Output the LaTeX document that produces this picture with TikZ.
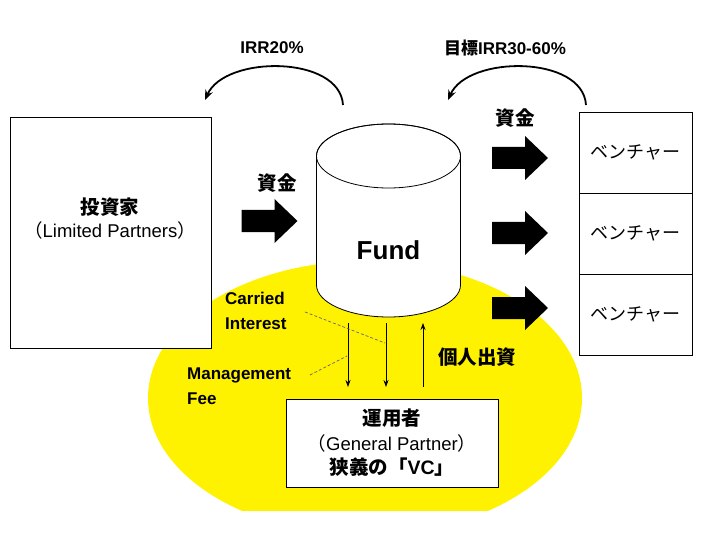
\documentclass[tikz,border=0pt]{standalone}
\usepackage{fontspec}
\setmainfont{Liberation Sans}
\newfontfamily\jp{Noto Sans CJK JP}
\usetikzlibrary{arrows.meta}
\begin{document}
\begin{tikzpicture}[x=1pt,y=-1pt,
  every node/.style={font=\fontsize{17}{24}\selectfont, inner sep=0pt},
  box/.style={draw, line width=0.8pt, fill=white},
  bl/.style={font=\bfseries\fontsize{17}{25}\selectfont, align=center},
  bj/.style={font=\jp\bfseries\fontsize{19.5}{25}\selectfont, align=center},
  rg/.style={font=\fontsize{18.5}{25}\selectfont, align=center},
  vj/.style={font=\jp\fontsize{18}{24}\selectfont},
  flow/.style={-{Stealth[length=7pt,width=5pt]}, line width=0.8pt},
  curve/.style={-{Stealth[length=10pt,width=8pt]}, line width=1.8pt},
  lead/.style={dash pattern=on 3pt off 2pt, line width=0.7pt, black!60},
  blk/.style={fill=black}]
\useasboundingbox (0,0) rectangle (720,540);
% yellow area
\begin{scope}
  \clip (0,0) rectangle (720,510);
  \fill[yellow] (365,398) ellipse [x radius=217, y radius=137];
\end{scope}
% investors
\node[box, minimum width=201pt, minimum height=231pt] (lp) at (110.5,233) {};
\node[bj] (lpname) at (110,207) {投資家};
\node[rg] (lpsub) at (110,230) {{\jp （}Limited Partners{\jp ）}};
% ventures
\node[box, vj, minimum width=113pt, minimum height=81pt] (v1) at (635.5,152.5) {ベンチャー};
\node[box, vj, minimum width=113pt, minimum height=81pt] (v2) at (635.5,233.5) {ベンチャー};
\node[box, vj, minimum width=113pt, minimum height=81pt] (v3) at (635.5,314.5) {ベンチャー};
% fund cylinder
\filldraw[fill=white, line width=0.8pt] (316.5,156) -- (316.5,285)
  arc[start angle=180, end angle=0, x radius=72, y radius=32] -- (460.5,156)
  arc[start angle=0, end angle=-180, x radius=72, y radius=32] -- cycle;
\draw[line width=0.8pt] (388.5,156) ellipse [x radius=72, y radius=32];
\node[font=\bfseries\fontsize{26}{30}\selectfont] (fund) at (388.5,250) {Fund};
% GP box
\node[box, minimum width=212pt, minimum height=88pt] (gp) at (392,443) {};
\node[bj] (gp1) at (392,418) {運用者};
\node[rg] (gp2) at (392,443) {{\jp （}General Partner{\jp ）}};
\node[bj] (gp3) at (392,467) {狭義の「{\rmfamily VC}」};
% block arrows
\foreach \cx/\cy in {269.5/221, 520/158, 520/233, 520/308}
  \fill[blk, shift={(\cx,\cy)}] (-28,-11) -- (5,-11) -- (5,-22) -- (28,0)
     -- (5,22) -- (5,11) -- (-28,11) -- cycle;
\node[bj] (fin1) at (277,183) {資金};
\node[bj] (fin2) at (515,118) {資金};
% curved return arrows
\coordinate (c1s) at (343,105);
\coordinate (c1e) at (205,100);
\coordinate (c2s) at (586,105);
\coordinate (c2e) at (448,100);
\draw[curve] (c1s) .. controls (340,55) and (225,55) .. (c1e);
\draw[curve] (c2s) .. controls (583,55) and (468,55) .. (c2e);
\node[bl] (irr1) at (272,48) {IRR20\%};
\node[bl] (irr2) at (505,48) {{\jp 目標}IRR30-60\%};
% vertical flows
\coordinate (a1s) at (348,323); \coordinate (a1e) at (348,387);
\coordinate (a2s) at (386,323); \coordinate (a2e) at (386,387);
\coordinate (a3s) at (423,387); \coordinate (a3e) at (423,323);
\draw[flow] (a1s) -- (a1e);
\draw[flow] (a2s) -- (a2e);
\draw[flow] (a3s) -- (a3e);
\node[bj] (own) at (477,357) {個人出資};
% labels
\node[bl, align=left, anchor=west] (ci) at (225,310.5) {Carried\\Interest};
\node[bl, align=left, anchor=west] (mf) at (187,386.5) {Management\\Fee};
\coordinate (d1s) at (305,312); \coordinate (d1e) at (385,343);
\coordinate (d2s) at (310,375); \coordinate (d2e) at (347,356);
\draw[lead] (d1s) -- (d1e);
\draw[lead] (d2s) -- (d2e);
\end{tikzpicture}
\end{document}
